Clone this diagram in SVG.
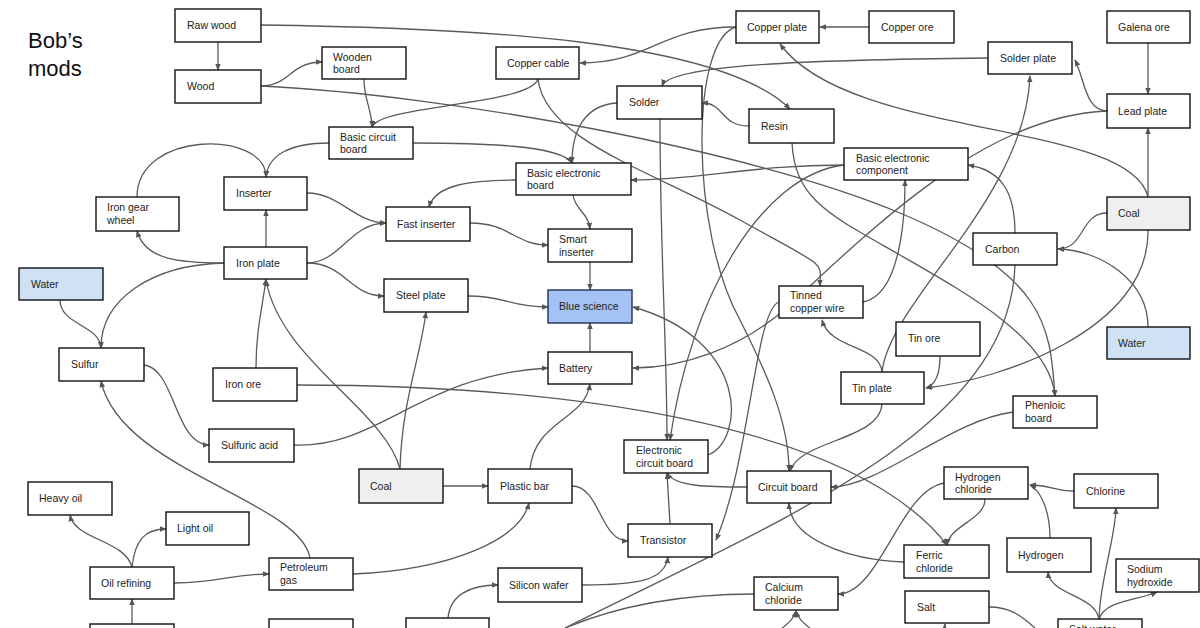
<svg xmlns="http://www.w3.org/2000/svg" width="1200" height="628" viewBox="0 0 1200 628">
<defs>
<marker id="a" viewBox="0 0 10 10" refX="9" refY="5" markerWidth="7" markerHeight="7" markerUnits="userSpaceOnUse" orient="auto"><path d="M0,1 L10,5 L0,9 z" fill="#555"/></marker>
<style>
.n rect{fill:#fff;stroke:#111;stroke-width:1.4}
.n.g rect{fill:#efefef}
.n.w rect{fill:#cfe2f3}
.n.b rect{fill:#a4c2f4;stroke:#1c2f55}
.n text{font-family:"Liberation Sans",Arial,sans-serif;font-size:10.5px;fill:#222}
.t{font-family:"Liberation Sans",Arial,sans-serif;font-size:22px;fill:#111}
#edges path{fill:none;stroke:#5a5a5a;stroke-width:1.3}
#edges path.m{marker-end:url(#a)}
</style>
</defs>
<rect width="1200" height="628" fill="#fff"/>
<text class="t" x="28" y="48">Bob’s</text>
<text class="t" x="28" y="76">mods</text>

<g id="edges">
<path class="m" d="M218,42 L218,70"/>
<path class="m" d="M261,25 C480,28 720,40 790,109"/>
<path class="m" d="M261,86 C290,86 290,62 322,62"/>
<path class="m" d="M261,86 C450,95 750,150 900,213 S1050,330 1055,396"/>
<path class="m" d="M792,143 C795,200 830,215 900,255 S1050,340 1055,396"/>
<path class="m" d="M736,27 C660,27 650,63 580,63"/>
<path class="m" d="M869,27 L820,27"/>
<path class="m" d="M364,79 C364,100 372,110 372,127"/>
<path class="m" d="M538,79 C530,105 380,105 372,127"/>
<path class="m" d="M538,79 C545,140 650,170 740,220 S820,260 820,286"/>
<path class="m" d="M413,143 C480,143 560,145 572,163"/>
<path class="m" d="M329,143 C290,143 268,155 266,177"/>
<path class="m" d="M137,197 C137,130 266,130 266,177"/>
<path class="m" d="M266,247 L266,210"/>
<path class="m" d="M307,193 C340,193 355,223 386,223"/>
<path class="m" d="M307,263 C340,263 350,223 386,223"/>
<path class="m" d="M307,263 C345,263 350,296 384,296"/>
<path class="m" d="M224,263 C180,263 145,260 137,231"/>
<path class="m" d="M224,263 C150,265 101,300 101,348"/>
<path class="m" d="M256,368 C256,330 262,310 266,279"/>
<path class="m" d="M400,469 C385,410 280,360 266,280"/>
<path class="m" d="M400,469 C402,400 420,360 426,312"/>
<path class="m" d="M470,223 C510,223 515,245 548,245"/>
<path class="m" d="M516,180 C470,180 435,185 429,207"/>
<path class="m" d="M573,195 C575,210 588,212 590,229"/>
<path class="m" d="M590,262 L590,290"/>
<path class="m" d="M468,296 C505,296 510,307 548,307"/>
<path class="m" d="M590,352 L590,323"/>
<path class="m" d="M294,445 C380,448 420,375 548,368"/>
<path class="m" d="M144,365 C175,368 175,445 209,445"/>
<path class="m" d="M60,300 C60,325 100,325 101,348"/>
<path class="m" d="M310,558 C300,500 120,470 101,381"/>
<path class="m" d="M132,567 C125,540 75,540 70,515"/>
<path class="m" d="M132,567 C135,540 145,529 166,529"/>
<path class="m" d="M132,628 L132,599"/>
<path class="m" d="M174,583 C220,583 230,574 269,574"/>
<path class="m" d="M353,574 C450,570 520,540 529,503"/>
<path class="m" d="M443,486 L488,486"/>
<path class="m" d="M530,469 C535,420 585,420 590,384"/>
<path class="m" d="M572,486 C600,486 600,541 628,541"/>
<path class="m" d="M582,585 C640,585 665,580 668,557"/>
<path class="m" d="M448,618 C450,595 470,585 498,585"/>
<path class="m" d="M670,524 L667,473"/>
<path class="m" d="M747,487 C710,487 675,487 667,473"/>
<path class="m" d="M660,119 C660,250 667,350 667,440"/>
<path class="m" d="M844,165 C760,175 690,300 670,440"/>
<path class="m" d="M779,302 C755,310 750,460 716,540"/>
<path class="m" d="M708,455 C745,440 750,340 633,307"/>
<path class="m" d="M1015,233 C1015,190 1000,170 968,165"/>
<path class="m" d="M863,302 C900,295 905,220 905,180"/>
<path class="m" d="M1107,213 C1080,213 1085,249 1058,249"/>
<path class="m" d="M1148,327 C1148,280 1100,250 1058,249"/>
<path class="m" d="M1148,197 L1148,128"/>
<path class="m" d="M1148,43 L1148,94"/>
<path class="m" d="M1148,197 C1130,120 850,140 780,44"/>
<path class="m" d="M1148,230 C1150,330 1000,380 926,388"/>
<path class="m" d="M940,356 C940,375 935,385 926,388"/>
<path class="m" d="M882,372 C880,345 830,350 822,320"/>
<path class="m" d="M882,372 C890,300 1025,200 1030,76"/>
<path class="m" d="M1107,111 C1085,110 1085,80 1075,60"/>
<path class="m" d="M988,58 C800,60 670,65 662,86"/>
<path class="m" d="M749,126 C720,126 725,103 702,103"/>
<path class="m" d="M617,103 C585,105 572,130 572,163"/>
<path class="m" d="M844,165 C750,165 700,180 631,180"/>
<path class="m" d="M1107,111 C1000,115 900,200 790,305 C740,350 680,368 633,368"/>
<path class="m" d="M1013,412 C950,420 880,487 831,487"/>
<path class="m" d="M882,404 C880,440 800,440 790,471"/>
<path class="m" d="M736,27 C690,40 690,230 740,320 C765,370 789,420 789,471"/>
<path class="m" d="M904,562 C850,560 790,540 789,503"/>
<path class="m" d="M944,483 C900,490 880,594 838,594"/>
<path class="m" d="M985,499 C985,520 950,525 947,545"/>
<path class="m" d="M297,385 C550,385 850,420 947,545"/>
<path class="m" d="M1074,491 C1055,491 1050,485 1030,485"/>
<path class="m" d="M1050,538 C1050,510 1040,490 1030,485"/>
<path class="m" d="M1099,619 C1095,595 1050,595 1048,572"/>
<path class="m" d="M1099,619 C1100,580 1115,540 1116,508"/>
<path class="m" d="M1099,619 C1105,600 1140,600 1157,592"/>
<path d="M989,607 C1010,607 1020,615 1035,628"/>
<path d="M1015,265 C1010,430 780,520 565,628"/>
<path d="M754,594 C680,594 620,605 565,628"/>
<path class="m" d="M780,630 C790,622 794,618 796,611"/>
<path class="m" d="M812,630 C802,622 798,618 796,611"/>
<path class="m" d="M944,634 L945,624"/>
</g>

<g id="rawwood" class="n"><rect x="175" y="9" width="86" height="33"/><text x="187" y="29">Raw wood</text></g>
<g id="wood" class="n"><rect x="175" y="70" width="86" height="33"/><text x="187" y="90">Wood</text></g>
<g id="woodenboard" class="n"><rect x="322" y="47" width="84" height="32"/><text x="333" y="61">Wooden</text><text x="333" y="73">board</text></g>
<g id="coppercable" class="n"><rect x="496" y="47" width="83" height="32"/><text x="507" y="67">Copper cable</text></g>
<g id="basiccircuitboard" class="n"><rect x="329" y="127" width="84" height="32"/><text x="340" y="141">Basic circuit</text><text x="340" y="153">board</text></g>
<g id="basicelectronicboard" class="n"><rect x="516" y="163" width="115" height="32"/><text x="527" y="177">Basic electronic</text><text x="527" y="189">board</text></g>
<g id="copperplate" class="n"><rect x="736" y="11" width="83" height="32"/><text x="747" y="31">Copper plate</text></g>
<g id="copperore" class="n"><rect x="869" y="11" width="85" height="32"/><text x="881" y="31">Copper ore</text></g>
<g id="solder" class="n"><rect x="617" y="86" width="85" height="33"/><text x="629" y="106">Solder</text></g>
<g id="resin" class="n"><rect x="749" y="109" width="85" height="34"/><text x="761" y="130">Resin</text></g>
<g id="basicelectroniccomponent" class="n"><rect x="844" y="148" width="124" height="32"/><text x="856" y="162">Basic electronic</text><text x="856" y="174">component</text></g>
<g id="solderplate" class="n"><rect x="988" y="42" width="84" height="32"/><text x="1000" y="62">Solder plate</text></g>
<g id="galenaore" class="n"><rect x="1107" y="11" width="83" height="32"/><text x="1118" y="31">Galena ore</text></g>
<g id="leadplate" class="n"><rect x="1107" y="94" width="83" height="34"/><text x="1118" y="115">Lead plate</text></g>
<g id="coal2" class="n g"><rect x="1107" y="197" width="83" height="33"/><text x="1118" y="217">Coal</text></g>
<g id="carbon" class="n"><rect x="973" y="233" width="84" height="32"/><text x="985" y="253">Carbon</text></g>
<g id="water2" class="n w"><rect x="1107" y="327" width="83" height="32"/><text x="1118" y="347">Water</text></g>
<g id="tinore" class="n"><rect x="896" y="322" width="84" height="34"/><text x="908" y="342">Tin ore</text></g>
<g id="tinplate" class="n"><rect x="841" y="372" width="83" height="32"/><text x="852" y="392">Tin plate</text></g>
<g id="tinnedcopperwire" class="n"><rect x="779" y="286" width="84" height="32"/><text x="790" y="299">Tinned</text><text x="790" y="312">copper wire</text></g>
<g id="phenolicboard" class="n"><rect x="1013" y="396" width="84" height="32"/><text x="1025" y="409">Phenloic</text><text x="1025" y="422">board</text></g>
<g id="inserter" class="n"><rect x="224" y="177" width="83" height="33"/><text x="236" y="197">Inserter</text></g>
<g id="irongearwheel" class="n"><rect x="96" y="197" width="83" height="34"/><text x="107" y="211">Iron gear</text><text x="107" y="224">wheel</text></g>
<g id="ironplate" class="n"><rect x="224" y="247" width="83" height="32"/><text x="236" y="267">Iron plate</text></g>
<g id="water1" class="n w"><rect x="19" y="268" width="84" height="32"/><text x="31" y="288">Water</text></g>
<g id="sulfur" class="n"><rect x="59" y="348" width="85" height="33"/><text x="71" y="368">Sulfur</text></g>
<g id="ironore" class="n"><rect x="213" y="368" width="84" height="33"/><text x="225" y="388">Iron ore</text></g>
<g id="fastinserter" class="n"><rect x="386" y="207" width="84" height="34"/><text x="397" y="228">Fast inserter</text></g>
<g id="smartinserter" class="n"><rect x="548" y="229" width="84" height="33"/><text x="559" y="243">Smart</text><text x="559" y="256">inserter</text></g>
<g id="steelplate" class="n"><rect x="384" y="279" width="84" height="33"/><text x="396" y="299">Steel plate</text></g>
<g id="bluescience" class="n b"><rect x="548" y="290" width="84" height="33"/><text x="559" y="310">Blue science</text></g>
<g id="battery" class="n"><rect x="548" y="352" width="84" height="32"/><text x="559" y="372">Battery</text></g>
<g id="sulfuricacid" class="n"><rect x="209" y="429" width="85" height="33"/><text x="221" y="449">Sulfuric acid</text></g>
<g id="heavyoil" class="n"><rect x="28" y="482" width="84" height="33"/><text x="39" y="502">Heavy oil</text></g>
<g id="lightoil" class="n"><rect x="166" y="512" width="83" height="33"/><text x="177" y="532">Light oil</text></g>
<g id="oilrefining" class="n"><rect x="90" y="567" width="84" height="32"/><text x="101" y="587">Oil refining</text></g>
<g id="petroleumgas" class="n"><rect x="269" y="558" width="84" height="32"/><text x="280" y="571">Petroleum</text><text x="280" y="584">gas</text></g>
<g id="coal1" class="n g"><rect x="359" y="469" width="84" height="34"/><text x="370" y="490">Coal</text></g>
<g id="plasticbar" class="n"><rect x="488" y="469" width="84" height="34"/><text x="500" y="490">Plastic bar</text></g>
<g id="siliconwafer" class="n"><rect x="498" y="568" width="84" height="34"/><text x="509" y="589">Silicon wafer</text></g>
<g id="electroniccircuitboard" class="n"><rect x="624" y="440" width="84" height="33"/><text x="636" y="454">Electronic</text><text x="636" y="467">circuit board</text></g>
<g id="circuitboard" class="n"><rect x="747" y="471" width="84" height="32"/><text x="758" y="491">Circuit board</text></g>
<g id="transistor" class="n"><rect x="628" y="524" width="84" height="33"/><text x="640" y="544">Transistor</text></g>
<g id="calciumchloride" class="n"><rect x="754" y="577" width="84" height="33"/><text x="765" y="591">Calcium</text><text x="765" y="604">chloride</text></g>
<g id="hydrogenchloride" class="n"><rect x="944" y="467" width="84" height="32"/><text x="955" y="481">Hydrogen</text><text x="955" y="493">chloride</text></g>
<g id="chlorine" class="n"><rect x="1074" y="474" width="84" height="34"/><text x="1086" y="495">Chlorine</text></g>
<g id="ferricchloride" class="n"><rect x="904" y="545" width="85" height="33"/><text x="916" y="559">Ferric</text><text x="916" y="572">chloride</text></g>
<g id="hydrogen" class="n"><rect x="1007" y="538" width="84" height="34"/><text x="1018" y="559">Hydrogen</text></g>
<g id="sodiumhydroxide" class="n"><rect x="1116" y="559" width="83" height="33"/><text x="1127" y="573">Sodium</text><text x="1127" y="586">hydroxide</text></g>
<g id="salt" class="n"><rect x="905" y="591" width="84" height="32"/><text x="917" y="611">Salt</text></g>
<g id="saltwater" class="n"><rect x="1058" y="619" width="84" height="32"/><text x="1069" y="633">Salt water</text></g>
<g id="offa" class="n"><rect x="90" y="624" width="84" height="32"/></g>
<g id="offb" class="n"><rect x="269" y="619" width="84" height="32"/></g>
<g id="offc" class="n"><rect x="406" y="618" width="83" height="32"/></g>
</svg>
